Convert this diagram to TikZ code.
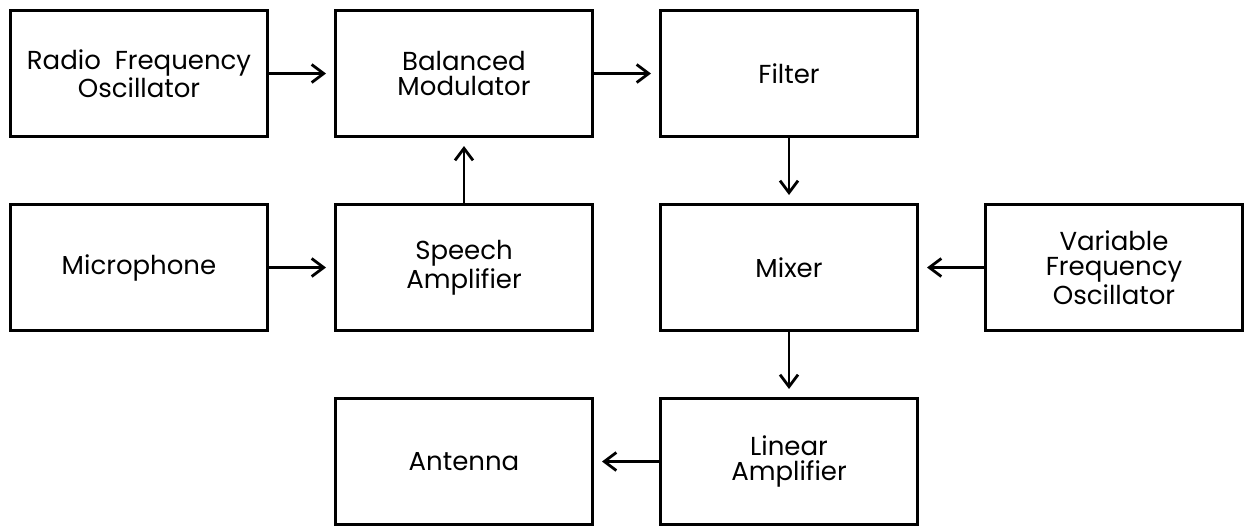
\documentclass[tikz,border=0pt]{standalone}
\usepackage{fontspec}
\setmainfont{Poppins}
\usetikzlibrary{arrows.meta,positioning}

\begin{document}
\begin{tikzpicture}[
  x=1pt,y=1pt,
  node distance=32.5pt and 32.5pt,
  block/.style={draw,line width=1.7pt,minimum width=128.3pt,minimum height=62.8pt,align=center,font=\fontsize{13}{12.8}\selectfont},
  feed/.style={line width=1.4pt,-{Straight Barb[length=6pt,width=9pt]},shorten >=4pt}
]
  \useasboundingbox (-4.5,4.5) rectangle (621.5,-259);

  \node[block,anchor=north west] (rfo) at (0,0) {Radio\ \ Frequency\\Oscillator};
  \node[block,right=of rfo] (balmod) {Balanced\\Modulator};
  \node[block,right=of balmod] (filter) {Filter};
  \node[block,below=of rfo] (mic) {Microphone};
  \node[block,below=of balmod] (speech) {Speech\\Amplifier};
  \node[block,below=of filter] (mixer) {Mixer};
  \node[block,right=of mixer] (vfo) {Variable\\Frequency\\Oscillator};
  \node[block,below=of speech] (antenna) {Antenna};
  \node[block,below=of mixer] (linamp) {Linear\\Amplifier};

  \draw[feed] (rfo) -- (balmod);
  \draw[feed] (balmod) -- (filter);
  \draw[feed] (filter) -- (mixer);
  \draw[feed] (mic) -- (speech);
  \draw[feed] (speech) -- (balmod);
  \draw[feed] (vfo) -- (mixer);
  \draw[feed] (mixer) -- (linamp);
  \draw[feed] (linamp) -- (antenna);
\end{tikzpicture}
\end{document}
